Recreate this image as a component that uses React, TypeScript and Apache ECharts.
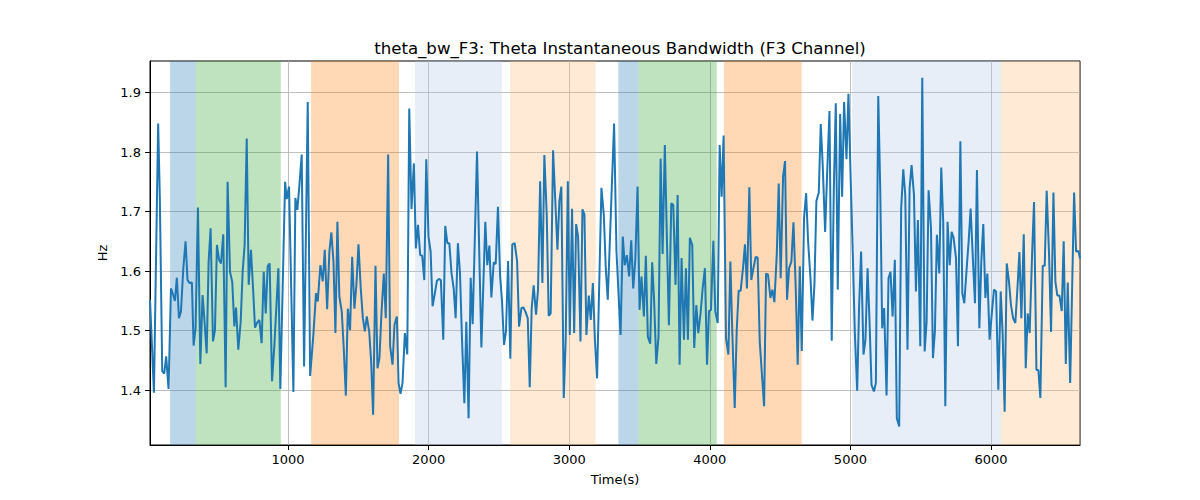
import { useEffect, useRef } from 'react';
import * as echarts from 'echarts';

// [time (s), bandwidth (Hz)], left to right
const seg1 = [
  [18, 1.552], [46, 1.396], [76, 1.848], [88, 1.722], [105, 1.432], [119, 1.428], [133, 1.457], [150, 1.402],
  [167, 1.571], [183, 1.56], [195, 1.55], [209, 1.589], [224, 1.521], [238, 1.532], [255, 1.605], [271, 1.65],
  [285, 1.585], [300, 1.58], [316, 1.581], [328, 1.475], [342, 1.504], [359, 1.707], [376, 1.444], [392, 1.56],
  [406, 1.515], [421, 1.462], [435, 1.616], [449, 1.672], [466, 1.482], [480, 1.501], [494, 1.644], [509, 1.619],
  [523, 1.613], [539, 1.662], [556, 1.405], [570, 1.75], [587, 1.599], [603, 1.582], [618, 1.507], [630, 1.539],
  [646, 1.468], [663, 1.515], [677, 1.599], [691, 1.644], [706, 1.823], [720, 1.577], [736, 1.636], [751, 1.571],
  [765, 1.505], [779, 1.513], [796, 1.518], [812, 1.479], [827, 1.599], [841, 1.529], [855, 1.608], [869, 1.613],
  [886, 1.415], [903, 1.477],
];
const seg2 = [
  [931, 1.605], [945, 1.402], [979, 1.75], [990, 1.721], [1007, 1.742], [1038, 1.397], [1052, 1.723], [1066, 1.703],
  [1081, 1.745], [1097, 1.796], [1114, 1.44], [1140, 1.884], [1157, 1.424], [1180, 1.493], [1199, 1.563], [1211, 1.549],
  [1230, 1.61], [1247, 1.583], [1261, 1.636], [1278, 1.536], [1294, 1.633], [1308, 1.665], [1323, 1.616], [1337, 1.496],
  [1351, 1.683], [1365, 1.557], [1382, 1.532], [1396, 1.471], [1411, 1.391], [1425, 1.537], [1441, 1.501], [1456, 1.624],
  [1472, 1.537], [1486, 1.577], [1501, 1.645], [1517, 1.571], [1532, 1.521], [1546, 1.499], [1560, 1.524], [1577, 1.499],
  [1591, 1.448], [1605, 1.359], [1622, 1.609], [1636, 1.437], [1650, 1.454], [1665, 1.532], [1681, 1.596], [1695, 1.521],
  [1712, 1.796], [1726, 1.474], [1743, 1.443], [1757, 1.51],
];
const seg3 = [
  [1774, 1.524], [1786, 1.412], [1800, 1.394], [1814, 1.412], [1831, 1.496], [1848, 1.46], [1862, 1.873], [1878, 1.704],
  [1895, 1.781], [1909, 1.638], [1924, 1.678], [1940, 1.627], [1954, 1.626], [1969, 1.585], [1983, 1.788], [1999, 1.658],
  [2014, 1.633], [2028, 1.541], [2042, 1.56], [2059, 1.584], [2073, 1.587], [2087, 1.585], [2104, 1.485], [2118, 1.676],
  [2133, 1.647], [2147, 1.647], [2163, 1.596], [2178, 1.571], [2192, 1.521], [2208, 1.647], [2223, 1.596], [2237, 1.487],
  [2254, 1.378], [2268, 1.515], [2284, 1.353], [2299, 1.589], [2313, 1.511], [2344, 1.801], [2375, 1.472], [2389, 1.577],
  [2403, 1.683], [2417, 1.61], [2432, 1.643], [2446, 1.556], [2463, 1.615], [2477, 1.612], [2493, 1.708], [2508, 1.593],
  [2522, 1.549], [2536, 1.476], [2550, 1.499], [2565, 1.617], [2581, 1.453], [2595, 1.645], [2612, 1.647],
];
const seg4 = [
  [2629, 1.617], [2643, 1.507], [2660, 1.538], [2674, 1.539], [2688, 1.532], [2705, 1.521], [2719, 1.405], [2733, 1.538],
  [2747, 1.576], [2764, 1.527], [2778, 1.569], [2793, 1.751], [2809, 1.58], [2823, 1.795], [2840, 1.694], [2854, 1.525],
  [2868, 1.529], [2885, 1.803], [2899, 1.728], [2916, 1.636], [2930, 1.718], [2944, 1.742], [2961, 1.387], [2975, 1.487],
  [2990, 1.751], [3004, 1.493], [3020, 1.705], [3035, 1.496], [3049, 1.679], [3063, 1.658], [3080, 1.482], [3094, 1.704],
  [3108, 1.695], [3122, 1.493], [3139, 1.559], [3153, 1.518], [3168, 1.58], [3182, 1.487], [3198, 1.42], [3229, 1.74],
  [3246, 1.694], [3260, 1.605], [3274, 1.552], [3319, 1.848], [3336, 1.633], [3365, 1.493], [3381, 1.658], [3395, 1.61],
  [3410, 1.627], [3426, 1.591], [3441, 1.652], [3455, 1.571], [3470, 1.62],
];
const seg5 = [
  [3486, 1.742], [3500, 1.535], [3514, 1.591], [3531, 1.524], [3545, 1.626], [3559, 1.49], [3576, 1.478], [3590, 1.615],
  [3604, 1.549], [3619, 1.444], [3635, 1.49], [3650, 1.789], [3664, 1.629], [3680, 1.812], [3695, 1.65], [3709, 1.509],
  [3726, 1.714], [3740, 1.711], [3756, 1.577], [3771, 1.728], [3785, 1.443], [3799, 1.622], [3816, 1.485], [3830, 1.605],
  [3844, 1.485], [3858, 1.656], [3875, 1.644], [3889, 1.471], [3904, 1.543], [3918, 1.496], [3934, 1.529], [3949, 1.571],
  [3965, 1.605], [3980, 1.443], [3994, 1.533], [4008, 1.535], [4025, 1.651], [4039, 1.532], [4056, 1.513], [4070, 1.812],
  [4084, 1.725], [4098, 1.828], [4115, 1.487], [4132, 1.46], [4146, 1.616], [4160, 1.496], [4177, 1.37], [4191, 1.499],
  [4205, 1.567], [4219, 1.567], [4236, 1.605], [4250, 1.645], [4264, 1.571], [4281, 1.741], [4295, 1.585], [4310, 1.605],
  [4326, 1.624],
];
const seg6 = [
  [4340, 1.623], [4355, 1.482], [4369, 1.432], [4386, 1.373], [4400, 1.596], [4414, 1.594], [4431, 1.555], [4445, 1.569],
  [4459, 1.548], [4476, 1.627], [4490, 1.747], [4504, 1.588], [4521, 1.759], [4535, 1.785], [4549, 1.552], [4564, 1.605],
  [4580, 1.616], [4595, 1.682], [4611, 1.571], [4625, 1.443], [4640, 1.608], [4654, 1.466], [4670, 1.689], [4685, 1.731],
  [4699, 1.65], [4716, 1.588], [4730, 1.517], [4744, 1.577], [4758, 1.718], [4775, 1.732], [4789, 1.847], [4803, 1.778],
  [4820, 1.666], [4834, 1.761], [4851, 1.869], [4867, 1.483], [4882, 1.739], [4896, 1.882], [4910, 1.569], [4927, 1.864],
  [4941, 1.725], [4955, 1.884], [4972, 1.788], [4986, 1.898], [5003, 1.745], [5017, 1.627], [5031, 1.499], [5048, 1.399],
  [5062, 1.543], [5076, 1.633], [5093, 1.46], [5107, 1.485], [5122, 1.605], [5136, 1.515], [5150, 1.409], [5167, 1.398],
  [5181, 1.412],
];
const seg7 = [
  [5198, 1.894], [5212, 1.739], [5226, 1.504], [5240, 1.538], [5257, 1.391], [5271, 1.588], [5285, 1.599], [5300, 1.524],
  [5316, 1.619], [5330, 1.353], [5347, 1.339], [5361, 1.705], [5376, 1.771], [5390, 1.728], [5406, 1.468], [5421, 1.739],
  [5435, 1.778], [5452, 1.728], [5466, 1.566], [5480, 1.686], [5497, 1.474], [5511, 1.925], [5528, 1.465], [5542, 1.515],
  [5556, 1.736], [5573, 1.672], [5587, 1.454], [5601, 1.499], [5615, 1.661], [5632, 1.596], [5646, 1.774], [5660, 1.683],
  [5675, 1.373], [5691, 1.683], [5706, 1.61], [5720, 1.666], [5734, 1.656], [5751, 1.622], [5765, 1.474], [5782, 1.818],
  [5796, 1.563], [5810, 1.546], [5827, 1.605], [5841, 1.65], [5855, 1.705], [5872, 1.616], [5886, 1.546], [5900, 1.77],
  [5917, 1.504], [5931, 1.616], [5945, 1.679], [5960, 1.555], [5974, 1.596], [5990, 1.485], [6005, 1.527], [6021, 1.569],
  [6036, 1.566],
];
const seg8 = [
  [6052, 1.401], [6069, 1.566], [6083, 1.493], [6097, 1.364], [6112, 1.613], [6128, 1.582], [6142, 1.543], [6157, 1.521],
  [6173, 1.513], [6188, 1.571], [6202, 1.632], [6216, 1.521], [6233, 1.662], [6247, 1.437], [6261, 1.529], [6275, 1.496],
  [6292, 1.627], [6306, 1.716], [6323, 1.434], [6337, 1.434], [6351, 1.387], [6368, 1.609], [6382, 1.609], [6396, 1.735],
  [6413, 1.627], [6427, 1.498], [6444, 1.732], [6458, 1.582], [6472, 1.559], [6487, 1.559], [6503, 1.533], [6517, 1.65],
  [6532, 1.444], [6546, 1.581], [6563, 1.412], [6577, 1.571], [6591, 1.732], [6605, 1.633], [6622, 1.634], [6633, 1.621],
];
const samples = [...seg1, ...seg2, ...seg3, ...seg4, ...seg5, ...seg6, ...seg7, ...seg8];

// shaded stage spans [start, end] in seconds
const bandRanges = [
  [161, 344], [344, 948], [1164, 1789], [1903, 2520], [2579, 3188],
  [3349, 3491], [3491, 4049], [4101, 4653], [5013, 6071], [6071, 6633],
];
const bandKinds = [
  'blue', 'green', 'orange', 'lightblue', 'lightorange',
  'blue', 'green', 'orange', 'lightblue', 'lightorange',
];

const xTicks = [1000, 2000, 3000, 4000, 5000, 6000];
const yTicks = [1.4, 1.5, 1.6, 1.7, 1.8, 1.9];

const bandColors: Record<string, string> = {
  blue: 'rgba(31, 119, 180, 0.3)',
  green: 'rgba(44, 160, 44, 0.3)',
  orange: 'rgba(255, 127, 14, 0.3)',
  lightblue: 'rgba(174, 199, 232, 0.3)',
  lightorange: 'rgba(255, 187, 120, 0.3)',
};

const FONT = 'DejaVu Sans';

export default function App() {
  const chartRef = useRef<HTMLDivElement>(null);

  useEffect(() => {
    document.body.style.margin = '0';
    if (!chartRef.current) return;
    const chart = echarts.init(chartRef.current, undefined, { renderer: 'svg' });

    chart.setOption({
      animation: false,
      backgroundColor: '#fff',
      title: {
        text: 'theta_bw_F3: Theta Instantaneous Bandwidth (F3 Channel)',
        left: 615,
        top: 35,
        textAlign: 'center',
        textStyle: { fontFamily: FONT, fontSize: 16.6, fontWeight: 'normal', color: '#000' }
      },
      grid: {
        left: 150,
        right: 120,
        top: 61,
        bottom: 55,
        containLabel: false,
        outerBoundsMode: 'none',
        show: true,
        borderColor: '#000',
        borderWidth: 1,
        backgroundColor: 'transparent'
      },
      xAxis: {
        type: 'value',
        min: 18,
        max: 6633,
        name: 'Time(s)',
        nameLocation: 'middle',
        nameGap: 28,
        nameTextStyle: { fontFamily: FONT, fontSize: 13, color: '#000' },
        axisLine: { show: true, onZero: false, lineStyle: { color: '#000', width: 1 } },
        axisTick: { show: true, length: 5, customValues: xTicks, lineStyle: { color: '#000' } },
        axisLabel: {
          customValues: xTicks,
          color: '#000',
          fontFamily: FONT,
          fontSize: 13,
          margin: 8,
          formatter: (v: number) => String(Math.round(v))
        },
        splitLine: { show: true, lineStyle: { color: '#b0b0b0', width: 0.8 } }
      },
      yAxis: {
        type: 'value',
        min: 1.308,
        max: 1.953,
        name: 'Hz',
        nameLocation: 'middle',
        nameGap: 40,
        nameTextStyle: { fontFamily: FONT, fontSize: 13, color: '#000' },
        axisLine: { show: true, onZero: false, lineStyle: { color: '#000', width: 1 } },
        axisTick: { show: true, length: 5, customValues: yTicks, lineStyle: { color: '#000' } },
        axisLabel: {
          customValues: yTicks,
          color: '#000',
          fontFamily: FONT,
          fontSize: 13,
          margin: 9,
          formatter: (v: number) => v.toFixed(1)
        },
        splitLine: { show: true, lineStyle: { color: '#b0b0b0', width: 0.8 } }
      },
      series: [
        {
          type: 'line',
          data: samples,
          symbol: 'none',
          z: 3,
          lineStyle: { color: '#1f77b4', width: 2 },
          markArea: {
            silent: true,
            z: 1,
            data: bandRanges.map((r, i) => [
              { xAxis: r[0], itemStyle: { color: bandColors[bandKinds[i]] } },
              { xAxis: r[1] }
            ])
          }
        }
      ]
    });

    return () => {
      chart.dispose();
    };
  }, []);

  return <div ref={chartRef} style={{ width: 1200, height: 500 }} />;
}
